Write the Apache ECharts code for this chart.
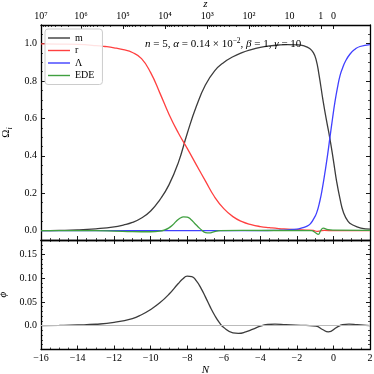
<!DOCTYPE html>
<html>
<head>
<meta charset="utf-8">
<script src="https://cdn.jsdelivr.net/npm/echarts@6/dist/echarts.min.js"></script>
<style>
  html, body { margin: 0; padding: 0; background: #fff; }
  #chart { width: 374px; height: 374px; }
</style>
</head>
<body>
<div id="chart"></div>
<script>
// density parameters vs N = ln a
var nM = [-16, -15, -14, -13, -12, -11.5, -11, -10.5, -10, -9.5, -9, -8.5, -8, -7.5, -7, -6.5, -6, -5.5, -5, -4.5, -4, -3.5, -3, -2.5, -2, -1.6, -1.3, -1.1, -0.95, -0.8, -0.56, -0.38, -0.19, 0, 0.18, 0.36, 0.54, 0.8, 1.09, 1.5, 2];
var omegaM = [0.0005, 0.0015, 0.004, 0.01, 0.02, 0.03, 0.044, 0.068, 0.105, 0.165, 0.245, 0.36, 0.52, 0.665, 0.78, 0.855, 0.9, 0.93, 0.952, 0.968, 0.98, 0.988, 0.993, 0.995, 0.994, 0.988, 0.974, 0.952, 0.915, 0.84, 0.69, 0.59, 0.49, 0.375, 0.26, 0.17, 0.1, 0.05, 0.029, 0.014, 0.008];

var nR = [-16, -15, -14, -13, -12.5, -12, -11.5, -11, -10.5, -10, -9.5, -9, -8.5, -8, -7.5, -7, -6.5, -6, -5.5, -5, -4.5, -4, -3.5, -3, -2.5, -2, -1.5, -1.1, -0.9, -0.7, -0.5, 0, 2];
var omegaR = [0.999, 0.998, 0.996, 0.99, 0.985, 0.978, 0.968, 0.953, 0.92, 0.845, 0.737, 0.623, 0.525, 0.44, 0.352, 0.265, 0.18, 0.118, 0.075, 0.048, 0.032, 0.022, 0.016, 0.011, 0.008, 0.005, 0.003, 0.001, -0.004, -0.001, 0.001, 0, 0];

var nL = [-16, -4, -3, -2.5, -2, -1.8, -1.5, -1.28, -1.1, -0.92, -0.74, -0.6, -0.46, -0.32, -0.19, -0.05, 0.08, 0.22, 0.36, 0.5, 0.65, 0.91, 1.2, 1.45, 2];
var omegaL = [0, 0.0005, 0.002, 0.004, 0.008, 0.012, 0.022, 0.035, 0.06, 0.095, 0.16, 0.23, 0.314, 0.405, 0.5, 0.6, 0.687, 0.765, 0.829, 0.87, 0.905, 0.945, 0.972, 0.985, 0.995];

var nE = [-16, -13, -12, -11, -10, -9.5, -9.2, -9, -8.8, -8.6, -8.4, -8.2, -8.0, -7.8, -7.6, -7.4, -7.2, -7.0, -6.8, -6.6, -6.4, -6.2, -5, -1.2, -1.0, -0.83, -0.7, -0.56, -0.3, 0, 2];
var omegaE = [0, 0, -0.002, -0.005, -0.006, -0.003, 0.005, 0.015, 0.03, 0.05, 0.066, 0.074, 0.072, 0.06, 0.04, 0.02, 0.002, -0.01, -0.012, -0.008, -0.003, 0, 0.001, 0, -0.01, -0.02, 0, 0.013, 0.005, 0.003, 0.002];

// scalar field
var nPhi = [-16, -15, -14, -13, -12, -11, -10.5, -10, -9.5, -9, -8.5, -8.25, -8, -7.75, -7.5, -7.25, -7, -6.75, -6.5, -6.25, -6, -5.5, -5.2, -4.8, -4.4, -4, -3.6, -3.2, -2.6, -1.5, -0.95, -0.6, -0.28, 0.2, 0.5, 0.85, 1.3, 2];
var phi = [0.0003, 0.0007, 0.0015, 0.003, 0.007, 0.015, 0.023, 0.034, 0.048, 0.066, 0.088, 0.098, 0.104, 0.103, 0.094, 0.079, 0.06, 0.04, 0.022, 0.007, -0.004, -0.015, -0.016, -0.013, -0.007, -0.001, 0.0025, 0.0035, 0.002, 0.0005, -0.001, -0.008, -0.013, -0.003, 0.002, 0.0035, 0.002, 0];

// tick labels
var omegaTicks = [0, 0.2, 0.4, 0.6, 0.8, 1.0];
var phiTicks = [0, 0.05, 0.10, 0.15];
var phiTickLabels = ['0.0', '0.05', '0.10', '0.15'];
var zTicks = [1e7, 1e6, 1e5, 1e4, 1e3, 1e2, 10, 1, 0];
var zTickLabels = ['10\u2077', '10\u2076', '10\u2075', '10\u2074', '10\u00b3', '10\u00b2', '10', '1', '0'];

var FONT = '"Liberation Serif", "DejaVu Serif", serif';
var N_MIN = -16, N_MAX = 2;

var zip = function(xs, ys) {
  var out = [];
  for (var i = 0; i < xs.length; i++) out.push([xs[i], ys[i]]);
  return out;
};
var minus = function(s) { return String(s).replace('-', '\u2212'); };

// z -> N = -ln(1+z), clamped into the plotted range
var zPos = zTicks.map(function(z) { return Math.max(N_MIN, -Math.log(1 + z)); });
var zMinorPos = [];
for (var k = 0; k <= 6; k++) {
  for (var m = 2; m <= 9; m++) {
    var p = -Math.log(1 + m * Math.pow(10, k));
    if (p > N_MIN) zMinorPos.push(p);
  }
}

var minorList = function(lo, hi, step, majors) {
  var out = [];
  for (var v = lo; v <= hi + 1e-9; v += step) {
    var r = Math.round(v * 1e4) / 1e4;
    var isMajor = majors.some(function(t) { return Math.abs(t - r) < 1e-6; });
    if (!isMajor) out.push(r);
  }
  return out;
};
var omegaMinor = minorList(-0.05, 1.1, 0.05, omegaTicks);
var phiMinor = minorList(-0.05, 0.18, 0.01, phiTicks);

var frame = { show: true, onZero: false, lineStyle: { color: '#000', width: 1.3 } };
var noLine = { show: false, onZero: false };

var extend = function(base, extra) {
  for (var key in extra) base[key] = extra[key];
  return base;
};
var xBase = function(grid, pos, extra) {
  return extend({
    type: 'value', gridIndex: grid, position: pos, min: N_MIN, max: N_MAX,
    splitLine: { show: false }, axisLine: frame, axisLabel: { show: false }
  }, extra);
};
var yBase = function(grid, pos, lo, hi, extra) {
  return extend({
    type: 'value', gridIndex: grid, position: pos, min: lo, max: hi,
    splitLine: { show: false }, axisLine: frame, axisLabel: { show: false }
  }, extra);
};
var majorTick = function(values) {
  return { show: true, inside: true, length: 4, customValues: values, lineStyle: { color: '#000', width: 0.9 } };
};
var minorTick = function(values) {
  return { show: true, inside: true, length: 2, customValues: values, lineStyle: { color: '#000', width: 0.7 } };
};
var withTicks = function(extra) {
  return extend({
    interval: 2,
    axisTick: { show: true, inside: true, length: 4, lineStyle: { color: '#000', width: 0.9 } },
    minorTick: { show: true, splitNumber: 4, length: 2, lineStyle: { color: '#000', width: 0.7 } }
  }, extra);
};
var curve = function(name, xi, yi, data, color) {
  return {
    name: name, type: 'line', xAxisIndex: xi, yAxisIndex: yi, data: data,
    smooth: 0.5, symbol: 'none', color: color, lineStyle: { width: 1.3 }
  };
};

var chart = echarts.init(document.getElementById('chart'), null, { renderer: 'canvas' });

var phiSeries = curve('phi', 3, 4, zip(nPhi, phi), '#3c3c3c');
phiSeries.markLine = {
  silent: true, symbol: 'none', label: { show: false },
  lineStyle: { color: '#bbb', width: 1, type: 'solid' },
  data: [{ yAxis: 0 }]
};

var option = {
  animation: false,
  backgroundColor: '#fff',
  textStyle: { fontFamily: FONT },
  title: {
    left: 140, top: 32,
    text: '{i|n} = 5, {i|\u03b1} = 0.14 \u00d7 10{s|\u22122}, {i|\u03b2} = 1, {i|\u03b3} = 10',
    textStyle: {
      fontFamily: FONT, fontSize: 11, fontWeight: 'normal', color: '#000',
      rich: {
        i: { fontFamily: FONT, fontSize: 11, fontStyle: 'italic', color: '#000' },
        s: { fontFamily: FONT, fontSize: 7.5, color: '#000', padding: [0, 0, 6, 0] }
      }
    }
  },
  legend: {
    data: ['m', 'r', '\u039b', 'EDE'],
    orient: 'vertical', left: 45, top: 29,
    icon: 'rect', itemWidth: 22, itemHeight: 1.4, itemGap: 2.5,
    padding: [4, 8, 4, 3],
    borderColor: '#ccc', borderWidth: 1, borderRadius: 3,
    backgroundColor: 'rgba(255,255,255,0.85)',
    textStyle: { fontFamily: FONT, fontSize: 10, color: '#000', lineHeight: 10 }
  },
  grid: [
    { left: 41, right: 4, top: 25, height: 215, containLabel: false, outerBoundsMode: 'none' },
    { left: 41, right: 4, top: 240, height: 109.5, containLabel: false, outerBoundsMode: 'none' }
  ],
  xAxis: [
    xBase(0, 'bottom', withTicks({})),
    xBase(0, 'top', {
      name: 'z', nameLocation: 'middle', nameGap: 15, nameMoveOverlap: false,
      nameTextStyle: { fontFamily: FONT, fontSize: 11, fontStyle: 'italic', color: '#000' },
      axisTick: majorTick(zPos),
      axisLabel: {
        show: true, customValues: zPos, margin: 4, color: '#000', fontFamily: FONT, fontSize: 10,
        formatter: function(v) {
          for (var i = 0; i < zPos.length; i++) {
            if (Math.abs(zPos[i] - v) < 1e-6) return zTickLabels[i];
          }
          return '';
        }
      }
    }),
    xBase(0, 'top', { axisLine: noLine, axisTick: minorTick(zMinorPos) }),
    xBase(1, 'bottom', withTicks({
      name: 'N', nameLocation: 'middle', nameGap: 12,
      nameTextStyle: { fontFamily: FONT, fontSize: 11, fontStyle: 'italic', color: '#000' },
      axisLabel: { show: true, margin: 4, color: '#000', fontFamily: FONT, fontSize: 10, formatter: minus }
    })),
    xBase(1, 'top', withTicks({}))
  ],
  yAxis: [
    yBase(0, 'left', -0.05, 1.1, {
      name: '{a|\u03a9}{b|i}', nameLocation: 'middle', nameGap: 18,
      nameTextStyle: {
        color: '#000',
        rich: {
          a: { fontFamily: FONT, fontSize: 11, color: '#000' },
          b: { fontFamily: FONT, fontSize: 8, fontStyle: 'italic', color: '#000', padding: [6, 0, 0, 0] }
        }
      },
      axisTick: majorTick(omegaTicks),
      axisLabel: {
        show: true, customValues: omegaTicks, margin: 4, color: '#000', fontFamily: FONT, fontSize: 10,
        formatter: function(v) { return v.toFixed(1); }
      }
    }),
    yBase(0, 'left', -0.05, 1.1, { axisLine: noLine, axisTick: minorTick(omegaMinor) }),
    yBase(0, 'right', -0.05, 1.1, { axisTick: majorTick(omegaTicks) }),
    yBase(0, 'right', -0.05, 1.1, { axisLine: noLine, axisTick: minorTick(omegaMinor) }),
    yBase(1, 'left', -0.05, 0.18, {
      name: '\u03d5', nameLocation: 'middle', nameGap: 22,
      nameTextStyle: { fontFamily: FONT, fontSize: 11, fontStyle: 'italic', color: '#000' },
      axisTick: majorTick(phiTicks),
      axisLabel: {
        show: true, customValues: phiTicks, margin: 4, color: '#000', fontFamily: FONT, fontSize: 10,
        formatter: function(v) {
          for (var i = 0; i < phiTicks.length; i++) {
            if (Math.abs(phiTicks[i] - v) < 1e-6) return phiTickLabels[i];
          }
          return '';
        }
      }
    }),
    yBase(1, 'left', -0.05, 0.18, { axisLine: noLine, axisTick: minorTick(phiMinor) }),
    yBase(1, 'right', -0.05, 0.18, { axisTick: majorTick(phiTicks) }),
    yBase(1, 'right', -0.05, 0.18, { axisLine: noLine, axisTick: minorTick(phiMinor) })
  ],
  series: [
    curve('m', 0, 0, zip(nM, omegaM), '#3c3c3c'),
    curve('r', 0, 0, zip(nR, omegaR), '#ff4040'),
    curve('\u039b', 0, 0, zip(nL, omegaL), '#4040ff'),
    curve('EDE', 0, 0, zip(nE, omegaE), '#40a040'),
    phiSeries
  ]
};

chart.setOption(option);
</script>
</body>
</html>
